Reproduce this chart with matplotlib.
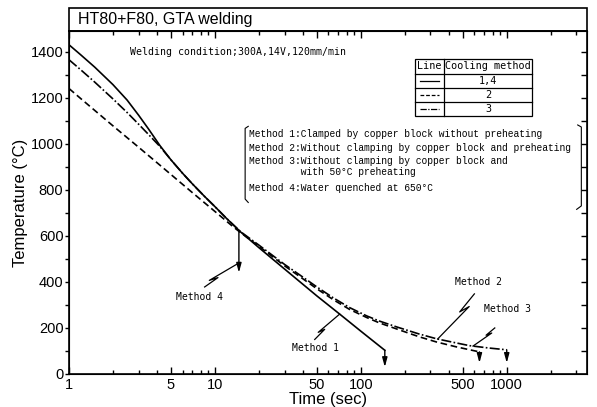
import numpy as np
import matplotlib
matplotlib.use('Agg')
import matplotlib.pyplot as plt
from matplotlib.patches import Rectangle
from matplotlib.ticker import FixedLocator, NullFormatter, LogLocator

# cooling curves, time in seconds and temperature in degrees C
t_m1 = [1, 1.2, 1.5, 2, 2.5, 3, 3.5, 4.2, 5, 6, 7, 8.5, 10, 12, 15, 20, 30, 50, 72, 100, 146]
T_m1 = [1430, 1387, 1333, 1257, 1190, 1124, 1065, 992, 930, 872, 826, 771, 727, 676, 617,
        549, 456, 339, 259, 186, 103]

t_m2 = [1, 1.2, 1.5, 2, 3, 4.2, 7, 10, 13.3, 15, 20, 30, 38, 50, 65, 84, 110, 134, 177, 250,
        330, 450, 650]
T_m2 = [1240, 1197, 1145, 1078, 985, 907, 788, 706, 640, 614, 555, 470, 424, 370, 322, 280,
        245, 222, 195, 162, 139, 118, 96]

t_m3 = [1, 1.2, 1.5, 2, 2.5, 3, 3.5, 4.2, 5, 6, 7, 8.5, 10, 12, 15, 20, 30, 38, 50, 65, 84,
        110, 134, 177, 250, 330, 450, 557, 750, 1000]
T_m3 = [1365, 1322, 1268, 1195, 1136, 1085, 1041, 988, 930, 872, 826, 771, 727, 676, 618,
        560, 476, 431, 378, 330, 288, 252, 230, 204, 174, 153, 135, 123, 113, 105]

# end of each record (arrow tips) and the water quench time of method 4
arrow_tip = [30, 48, 48]
t_quench = 14.6
T_quench_tip = 440

xticks = [1, 5, 10, 50, 100, 500, 1000]
yticks = [0, 200, 400, 600, 800, 1000, 1200, 1400]

methods = ["Method 1:Clamped by copper block without preheating",
           "Method 2:Without clamping by copper block and preheating",
           "Method 3:Without clamping by copper block and",
           "         with 50\u00b0C preheating",
           "Method 4:Water quenched at 650\u00b0C"]

def T_at(t, ts, Ts):
    return np.interp(np.log10(t), np.log10(ts), Ts)

fig = plt.figure(figsize=(5.97, 4.07), dpi=100)
ax = fig.add_axes([0.1156, 0.0811, 0.8677, 0.8428])
ax.set_xscale('log')
ax.set_xlim(1, 3550)
ax.set_ylim(0, 1490)

lw = 1.2
ax.plot(t_m1, T_m1, color='k', lw=lw)
ax.plot(t_m2, T_m2, color='k', lw=lw, linestyle=(0, (4, 2.2)))
ax.plot(t_m3, T_m3, color='k', lw=lw, linestyle=(0, (6, 1.4, 1, 1.4)))

arrow = dict(arrowstyle='-|>,head_width=0.15,head_length=0.55', lw=1, color='k',
             shrinkA=0, shrinkB=0)
for ts, Ts, tip in [(t_m1, T_m1, arrow_tip[0]), (t_m2, T_m2, arrow_tip[1]), (t_m3, T_m3, arrow_tip[2])]:
    ax.annotate('', xy=(ts[-1], tip), xytext=(ts[-1], Ts[-1]), arrowprops=arrow)
ax.annotate('', xy=(t_quench, T_quench_tip), xytext=(t_quench, T_at(t_quench, t_m1, T_m1)),
            arrowprops=arrow)

# zigzag leader lines from a curve to its label
def leader(p_curve, p_label):
    tr = ax.transData
    a = tr.transform(p_curve)
    b = tr.transform(p_label)
    d = a - b
    m1 = b + 0.4 * d
    m2 = m1 - np.array([0.26 * d[0], 0.12 * d[1]])
    pts = tr.inverted().transform(np.array([b, m1, m2, a]))
    ax.plot(pts[:, 0], pts[:, 1], color='k', lw=0.9)

mono = 'DejaVu Sans Mono'
leader((14.4, 480), (8.5, 378))
ax.text(7.9, 335, 'Method 4', family=mono, fontsize=7, ha='center', va='center')
leader((71.6, T_at(71.6, t_m1, T_m1)), (48.3, 150))
ax.text(49.2, 113, 'Method 1', family=mono, fontsize=7, ha='center', va='center')
leader((336, T_at(336, t_m3, T_m3)), (600, 348))
ax.text(643, 400, 'Method 2', family=mono, fontsize=7, ha='center', va='center')
leader((587, T_at(587, t_m3, T_m3)), (828, 200))
ax.text(1016, 283, 'Method 3', family=mono, fontsize=7, ha='center', va='center')

# axes and ticks
for s in ax.spines.values():
    s.set_linewidth(1.2)
ax.xaxis.set_major_locator(FixedLocator([1, 10, 100, 1000]))
ax.xaxis.set_minor_locator(LogLocator(base=10, subs=np.arange(2, 10)))
ax.xaxis.set_minor_formatter(NullFormatter())
ax.set_xticks(xticks)
ax.set_xticklabels([str(v) for v in xticks])
ax.tick_params(axis='x', which='both', direction='in', top=True, labelsize=10.5, pad=3)
ax.tick_params(axis='x', which='major', length=5, width=1)
ax.tick_params(axis='x', which='minor', length=3, width=1)
ax.set_yticks(yticks)
ax.set_yticks(range(100, 1500, 200), minor=True)
ax.tick_params(axis='y', which='both', direction='out', length=3, width=1, labelsize=10.5, pad=1)
for lab in ax.get_xticklabels() + ax.get_yticklabels():
    lab.set_family('Liberation Sans')

axr = ax.twinx()
axr.set_ylim(ax.get_ylim())
axr.set_yticks(range(100, 1500, 100))
axr.tick_params(axis='y', direction='in', length=4, width=1, labelright=False)

ax.set_xlabel('Time (sec)', family='Liberation Sans', fontsize=12, labelpad=0)
ax.set_ylabel('Temperature (\u00b0C)', family='Liberation Sans', fontsize=12, labelpad=2)

# title band above the plot area
ax.add_patch(Rectangle((0, 1), 1, 0.067, transform=ax.transAxes, clip_on=False,
                       fill=False, lw=1.2))
ax.text(0.017, 1.033, 'HT80+F80, GTA welding', transform=ax.transAxes,
        family='Liberation Sans', fontsize=11.5, va='center', ha='left')

ax.text(0.118, 0.939, 'Welding condition;300A,14V,120mm/min', transform=ax.transAxes,
        family=mono, fontsize=7.1, va='center')

# line-style table
tx0, tx1, txc = 0.668, 0.894, 0.724
rows = [0.918, 0.875, 0.834, 0.793, 0.752]
ax.add_patch(Rectangle((tx0, rows[-1]), tx1 - tx0, rows[0] - rows[-1],
                       transform=ax.transAxes, facecolor='white', edgecolor='k', lw=0.9))
for r in rows[1:-1]:
    ax.plot([tx0, tx1], [r, r], transform=ax.transAxes, color='k', lw=0.9)
ax.plot([txc, txc], [rows[-1], rows[0]], transform=ax.transAxes, color='k', lw=0.9)
ax.text((tx0 + txc) / 2, (rows[0] + rows[1]) / 2, 'Line', transform=ax.transAxes,
        family=mono, fontsize=7.3, ha='center', va='center')
ax.text((txc + tx1) / 2, (rows[0] + rows[1]) / 2, 'Cooling method', transform=ax.transAxes,
        family=mono, fontsize=7.3, ha='center', va='center')
styles = ['-', (0, (3, 1.5)), (0, (5, 1.2, 1, 1.2))]
names = ['1,4', '2', '3']
for i in range(3):
    yc = (rows[i + 1] + rows[i + 2]) / 2
    ax.plot([tx0 + 0.01, txc - 0.01], [yc, yc], transform=ax.transAxes, color='k',
            lw=0.9, linestyle=styles[i])
    ax.text((txc + tx1) / 2, yc, names[i], transform=ax.transAxes,
            family=mono, fontsize=7.3, ha='center', va='center')

# method descriptions in brackets
ys = [0.699, 0.660, 0.622, 0.588, 0.543]
for y, s in zip(ys, methods):
    ax.text(0.347, y, s, transform=ax.transAxes, family='Liberation Mono',
            fontsize=6.9, va='center', ha='left')
ax.plot([0.346, 0.340, 0.340, 0.346], [0.722, 0.716, 0.51, 0.50],
        transform=ax.transAxes, color='k', lw=0.8)
ax.plot([0.982, 0.989, 0.989, 0.980], [0.726, 0.72, 0.49, 0.48],
        transform=ax.transAxes, color='k', lw=0.8)

fig.savefig('out.png', dpi=100)
